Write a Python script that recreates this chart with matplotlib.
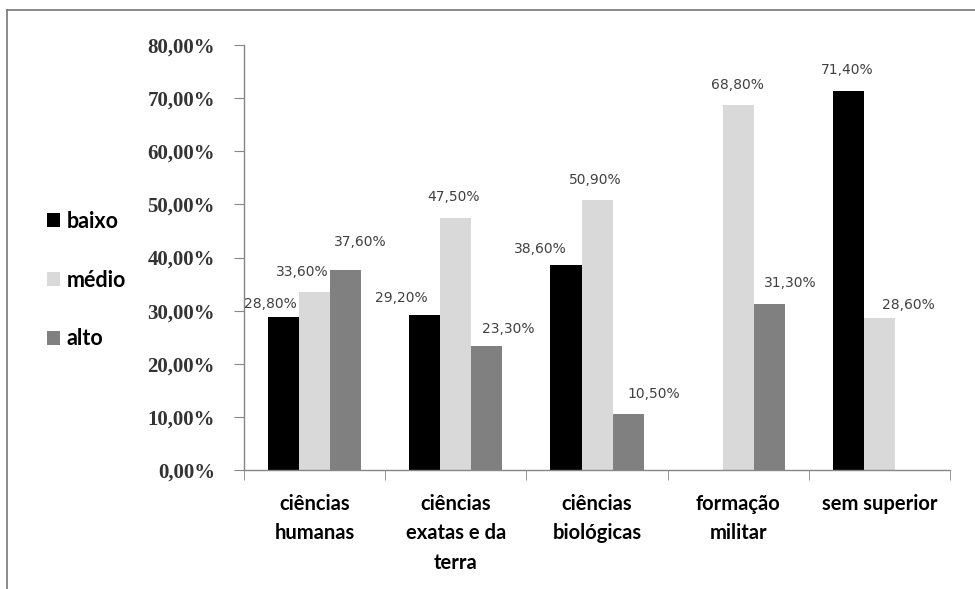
import matplotlib
matplotlib.use("Agg")
import matplotlib.pyplot as plt
from matplotlib.lines import Line2D
from matplotlib.ticker import FuncFormatter, FixedLocator
import numpy as np

# categories and shares per level
categorias = ["ciências\nhumanas", "ciências\nexatas e da\nterra", "ciências\nbiológicas",
              "formação\nmilitar", "sem superior"]
baixo = [28.8, 29.2, 38.6, 0.0, 71.4]
medio = [33.6, 47.5, 50.9, 68.8, 28.6]
alto = [37.6, 23.3, 10.5, 31.3, 0.0]

niveis = ["baixo", "médio", "alto"]
cores = ["#000000", "#d9d9d9", "#808080"]

# label nudges in pixels (dx, dy) from the top centre of each bar
desloc = [
    [(-13, 13), (-23, 17), (-26, 16), (0, 0), (-1, 21)],
    [(-12, 20), (-2, 21), (-2, 20), (-1, 20), (29, 13)],
    [(15, 28), (21, 17), (26, 20), (21, 21), (0, 0)],
]

def pct(v, pos=None):
    return ("%.2f%%" % v).replace(".", ",")

fig = plt.figure(figsize=(9.75, 5.89), dpi=100)
ax = fig.add_axes([0.2503, 0.2020, 0.7241, 0.7216])

x = np.arange(len(categorias))
w = 0.22
series = [baixo, medio, alto]
barras = []
for i, (vals, cor, nome) in enumerate(zip(series, cores, niveis)):
    b = ax.bar(x + (i - 1) * w, vals, w, color=cor, label=nome, linewidth=0)
    barras.append(b)
    for j, v in enumerate(vals):
        if v == 0:
            continue
        dx, dy = desloc[i][j]
        ax.annotate(pct(v), (x[j] + (i - 1) * w, v), xytext=(dx, dy),
                    textcoords="offset pixels", ha="center", va="center",
                    fontsize=10, color="#404040", family="DejaVu Sans")

ax.set_xlim(-0.5, len(categorias) - 0.5)
ax.set_ylim(0, 80)
ax.yaxis.set_major_locator(FixedLocator(np.arange(0, 81, 10)))
ax.yaxis.set_major_formatter(FuncFormatter(pct))
ax.set_xticks(x)
ax.set_xticklabels(categorias, family="Lato", fontweight="bold", fontsize=14.5,
                   linespacing=1.6, va="top")
ax.set_xticks(np.arange(-0.5, len(categorias), 1), minor=True)
ax.tick_params(axis="x", which="major", length=0, pad=17)
ax.tick_params(axis="x", which="minor", length=7, color="#868686", direction="out")
ax.tick_params(axis="y", length=7, color="#868686", direction="out", pad=14)
for t in ax.get_yticklabels():
    t.set_family("Liberation Serif")
    t.set_fontweight("bold")
    t.set_fontsize(15)
    t.set_color("#333333")

for s in ["top", "right"]:
    ax.spines[s].set_visible(False)
for s in ["left", "bottom"]:
    ax.spines[s].set_color("#868686")
    ax.spines[s].set_linewidth(1.0)

leg = fig.legend(handles=barras, labels=niveis, loc="upper left",
                 bbox_to_anchor=(0.037, 0.66), frameon=False,
                 prop={"family": "Lato", "weight": "bold", "size": 15.5},
                 handlelength=0.62, handleheight=0.62, handletextpad=0.3,
                 labelspacing=1.75, borderpad=0)

# outer chart frame, top and left edges
fig.add_artist(Line2D([7 / 975, 1], [1 - 10 / 589, 1 - 10 / 589], color="#777777", lw=1.2))
fig.add_artist(Line2D([7 / 975, 7 / 975], [0, 1 - 10 / 589], color="#777777", lw=1.2))

fig.savefig("out.png", dpi=100)
